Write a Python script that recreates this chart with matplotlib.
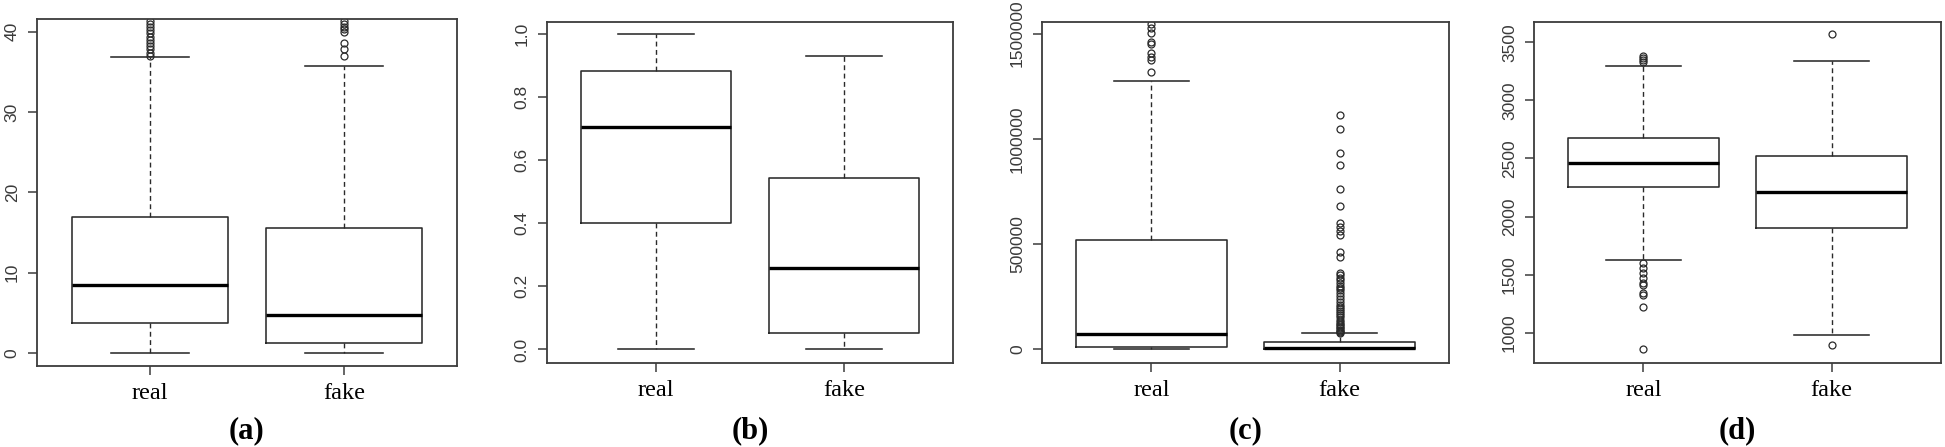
import matplotlib
matplotlib.use('Agg')
import matplotlib.pyplot as plt

# valores (cuartiles, bigotes y atipicos por panel)
grupos = ['real', 'fake']

# (a)
a_med = [8.4, 4.65]
a_q1 = [3.65, 1.25]
a_q3 = [16.9, 15.5]
a_lo = [0.0, 0.0]
a_hi = [36.9, 35.7]
a_out_real = [37.0, 37.4, 37.8, 38.2, 38.6, 39.0, 39.4, 39.8, 40.2, 40.6, 41.0, 41.4]
a_out_fake = [37.0, 37.9, 38.6, 40.0, 40.3, 40.6, 41.0, 41.4]

# (b)
b_med = [0.704, 0.258]
b_q1 = [0.40, 0.051]
b_q3 = [0.882, 0.542]
b_lo = [0.0, 0.0]
b_hi = [1.0, 0.930]

# (c)
c_med = [70000, 4000]
c_q1 = [11000, 0]
c_q3 = [518500, 33300]
c_lo = [0, 0]
c_hi = [1275000, 74700]
c_out_real = [1319000, 1375000, 1391000, 1407000, 1449000, 1462000,
              1505000, 1525000, 1546000]
c_out_fake = [1113000, 1045000, 934000, 874000, 761000, 680000, 598000,
              582000, 563000, 542000, 463000, 436000, 360000, 350000,
              340000, 330000, 315000, 300000, 290000, 280000, 265000,
              250000, 240000, 225000, 210000, 200000, 190000, 180000,
              170000, 160000, 150000, 140000, 130000, 120000, 112000,
              105000, 98000, 92000, 86000, 80000, 77000]

# (d)
d_med = [2459, 2209]
d_q1 = [2252, 1904]
d_q3 = [2674, 2522]
d_lo = [1626, 983]
d_hi = [3297, 3340]
d_out_real = [3383, 3363, 3348, 3328, 1598, 1555, 1511, 1468, 1425, 1411,
              1339, 1325, 1219, 857]
d_out_fake = [3575, 894]

paneles = [
    ('(a)', a_med, a_q1, a_q3, a_lo, a_hi, [a_out_real, a_out_fake],
     [0, 10, 20, 30, 40], ['0', '10', '20', '30', '40'], (-1.65, 41.6)),
    ('(b)', b_med, b_q1, b_q3, b_lo, b_hi, [[], []],
     [0, 0.2, 0.4, 0.6, 0.8, 1.0], ['0.0', '0.2', '0.4', '0.6', '0.8', '1.0'],
     (-0.042, 1.038)),
    ('(c)', c_med, c_q1, c_q3, c_lo, c_hi, [c_out_real, c_out_fake],
     [0, 500000, 1000000, 1500000], ['0', '500000', '1000000', '1500000'],
     (-65000, 1557000)),
    ('(d)', d_med, d_q1, d_q3, d_lo, d_hi, [d_out_real, d_out_fake],
     [1000, 1500, 2000, 2500, 3000, 3500],
     ['1000', '1500', '2000', '2500', '3000', '3500'], (742, 3677)),
]

# cajas de ejes en pixeles: izquierda, derecha, arriba, abajo
cajas = [(37, 457, 19, 366), (546.7, 953.3, 21.7, 362.7),
         (1042.3, 1448.7, 21.7, 362.7), (1534.3, 1940.7, 21.7, 362.7)]

W, H = 1945, 447
fig = plt.figure(figsize=(W / 100, H / 100), dpi=100)

color_marco = '#3c3c3c'
color_linea = '#2a2a2a'

for (etiq, med, q1, q3, lo, hi, outs, yt, ytl, ylim), (l, r, t, b) in zip(paneles, cajas):
    ax = fig.add_axes([l / W, 1 - b / H, (r - l) / W, (b - t) / H])
    stats = []
    for i in range(2):
        stats.append({'med': med[i], 'q1': q1[i], 'q3': q3[i],
                      'whislo': lo[i], 'whishi': hi[i], 'fliers': outs[i]})
    ax.bxp(stats, positions=[1, 2], widths=0.8, capwidths=0.4,
           boxprops=dict(color=color_linea, linewidth=1.15),
           medianprops=dict(color='black', linewidth=2.4),
           whiskerprops=dict(color=color_linea, linewidth=1.0, linestyle=(0, (3.5, 2.5))),
           capprops=dict(color=color_linea, linewidth=1.15),
           flierprops=dict(marker='o', markerfacecolor='none', markeredgecolor=color_linea,
                           markersize=5.0, markeredgewidth=0.9, linestyle='none'))
    ax.set_xlim(0.42, 2.58)
    ax.set_ylim(*ylim)
    ax.set_xticks([1, 2])
    ax.set_xticklabels(grupos, family='Liberation Serif', fontsize=17.5)
    ax.set_yticks(yt)
    ax.set_yticklabels(ytl, family='Liberation Sans', fontsize=12.5, color='#3a3a3a',
                       rotation=90, va='center')
    ax.tick_params(axis='both', direction='out', length=6.5, width=1.1, color=color_marco)
    ax.tick_params(axis='x', pad=6)
    ax.tick_params(axis='y', pad=6)
    for s in ax.spines.values():
        s.set_color(color_marco)
        s.set_linewidth(1.3)
    fig.text((l + r) / 2 / W, 1 - 431 / H, etiq, ha='center', va='center',
             family='Liberation Serif', fontweight='bold', fontsize=22)

fig.savefig('out.png', dpi=100)
